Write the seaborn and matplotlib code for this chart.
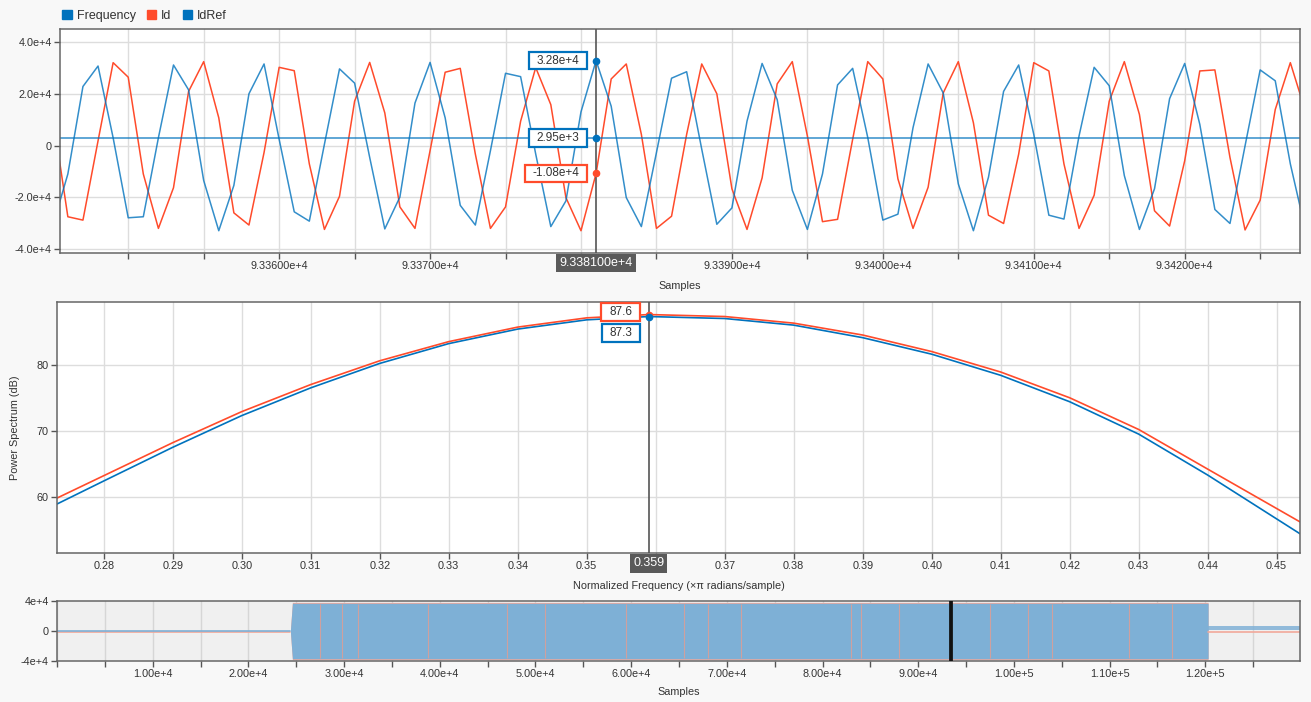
import matplotlib
matplotlib.use('Agg')
import matplotlib.pyplot as plt
import matplotlib.ticker as mticker
from matplotlib.patches import Patch
import seaborn as sns
import pandas as pd
import numpy as np

# ---- data ----
sample_start = 93345
id_ref = [-31000, -11000, 22800, 30700, 3000, -27900, -27500, 3000, 31100, 21500,
          -13500, -32900, -15400, 20000, 31500, 2400, -25600, -29200, 500, 29600,
          24100, -4600, -32200, -19900, 16400, 32100, 10700, -23100, -30700, -2000,
          27900, 26600, -3300, -31300, -21400, 13000, 32800, 15200, -20100, -31300,
          -2700, 26000, 28500, -1400, -30400, -24100, 9400, 31700, 17700, -17300,
          -32400, -11000, 23400, 29800, 3100, -28800, -26500, 6900, 31500, 20300,
          -14800, -32900, -12200, 20900, 31100, 4300, -26900, -28400, 3700, 30200,
          23100, -11600, -32400, -16700, 18100, 31700, 8200, -24700, -30100, -100,
          29200, 25000, -7100, -32600]
id_meas = [11600, -27500, -28800, 1800, 32000, 26400, -11000, -32000, -16300, 20900,
           32400, 10700, -26000, -30700, -2700, 30200, 28900, -7100, -32400, -19600,
           17100, 32100, 12600, -23700, -32000, -2000, 28300, 29800, -3300, -32000,
           -23700, 9400, 30100, 15800, -20100, -32900, -10800, 25700, 31500, 4300,
           -32000, -27300, 4300, 31500, 20000, -16700, -32400, -12500, 23800, 32400,
           3700, -29400, -28500, 2400, 32400, 25700, -12900, -32000, -16100, 20300,
           32400, 8800, -26900, -30100, -3300, 32000, 28800, -7100, -32000, -19200,
           17100, 32400, 12000, -25200, -31100, -5900, 28800, 29200, -4600, -32600,
           -21100, 13900, 32000, 13200]
frequency_val = 2950
cursor_sample = 93381

spec_freq = [0.2732, 0.28, 0.29, 0.30, 0.31, 0.32, 0.33, 0.34, 0.35, 0.359,
             0.37, 0.38, 0.39, 0.40, 0.41, 0.42, 0.43, 0.44, 0.4534]
spec_id = [59.8, 63.2, 68.2, 72.9, 77.0, 80.6, 83.5, 85.7, 87.1, 87.6,
           87.3, 86.3, 84.5, 82.0, 78.9, 75.0, 70.2, 64.2, 56.2]
spec_idref = [58.9, 62.4, 67.5, 72.3, 76.5, 80.2, 83.2, 85.4, 86.8, 87.3,
              87.0, 86.0, 84.1, 81.6, 78.4, 74.4, 69.5, 63.3, 54.4]
cursor_freq = 0.359

# overview (whole record), drawn as levels / envelope
ov_quiet_x = [0, 24400]
ov_quiet_idref = [400, 400]
ov_quiet_id = [-1300, -1300]
ov_band_x = [24400, 24600, 120300]
ov_band_hi = [2000, 37000, 37000]
ov_band_lo = [-2000, -37000, -37000]
ov_tail_x = [120300, 130300]
ov_tail_idref = [4900, 4900]
ov_tail_freq = [2300, 2300]
ov_tail_id = [-1700, -1700]
ov_red_streaks = [27500, 29800, 31500, 38800, 47000, 51000, 59500, 65500, 68000,
                  71500, 83000, 84000, 88000, 97500, 101500, 104000, 112000, 116500]

BLUE = '#0072BD'
RED = '#FF4B2B'
GREY = '#555555'
TXT = '#333333'

sns.set_theme(style='whitegrid')
plt.rcParams['font.family'] = ['Liberation Sans', 'DejaVu Sans']

W, H = 1311, 702
fig = plt.figure(figsize=(W / 100, H / 100), dpi=100, facecolor='#f8f8f8')


def style_axes(ax, face='white'):
    ax.set_facecolor(face)
    for s in ax.spines.values():
        s.set_color('#666666')
        s.set_linewidth(1.1)
    ax.grid(True, color='#dddddd', lw=1.0)
    ax.tick_params(direction='out', length=4, width=1, color=GREY,
                   labelsize=7.8, labelcolor=TXT, pad=2, bottom=True, left=True)


def value_box(ax, x, y, txt, color, dy=0):
    ax.annotate(txt, xy=(x, y), xytext=(-12, dy), textcoords='offset points',
                ha='right', va='center', fontsize=8.5, color=TXT,
                bbox=dict(boxstyle='square,pad=0.65', fc='white', ec=color, lw=1.6,
                          mutation_aspect=0.36),
                zorder=10)


def cursor_box(ax, x, txt, dy):
    ax.annotate(txt, xy=(x, 0), xycoords=('data', 'axes fraction'),
                xytext=(0, dy), textcoords='offset points', ha='center', va='center',
                fontsize=9, color='white', annotation_clip=False,
                bbox=dict(boxstyle='square,pad=0.25', fc='#5a5a5a', ec='none'),
                zorder=10)


# ---- top: time signals ----
samples = np.arange(sample_start, sample_start + len(id_ref))
sig = pd.DataFrame({'Samples': samples, 'Id': id_meas, 'IdRef': id_ref,
                    'Frequency': [frequency_val] * len(samples)})

ax1 = fig.add_axes([60 / W, 1 - 253 / H, 1240 / W, 224 / H])
style_axes(ax1)
sns.lineplot(data=sig, x='Samples', y='Id', color=RED, lw=1.1, ax=ax1)
sns.lineplot(data=sig, x='Samples', y='IdRef', color=BLUE, lw=1.1, alpha=0.8, ax=ax1)
sns.lineplot(data=sig, x='Samples', y='Frequency', color=BLUE, lw=1.1, alpha=0.8, ax=ax1)
ax1.set_xlim(93345.48, 93427.64)
ax1.set_ylim(-41500, 45000)
ax1.xaxis.set_major_locator(mticker.MultipleLocator(5))
ax1.xaxis.set_major_formatter(mticker.FuncFormatter(
    lambda v, p: f'{v / 1e4:.5f}e+4' if (round(v) % 10 == 0 and 93360 <= v and round(v) != 93380) else ''))
ax1.set_yticks([-40000, -20000, 0, 20000, 40000])
ax1.set_yticklabels(['-4.0e+4', '-2.0e+4', '0', '2.0e+4', '4.0e+4'])
ax1.set_xlabel('Samples', fontsize=7.8, color=TXT)
ax1.set_ylabel('')
ax1.xaxis.set_label_coords(0.5, -0.125)

ax1.axvline(cursor_sample, color=GREY, lw=1.2, zorder=5)
ci = cursor_sample - sample_start
for val, col in [(id_ref[ci], BLUE), (frequency_val, BLUE), (id_meas[ci], RED)]:
    ax1.plot(cursor_sample, val, 'o', ms=4.5, color=col, zorder=11)
value_box(ax1, cursor_sample, id_ref[ci], f'{id_ref[ci]:.2e}'.replace('e+04', 'e+4'), BLUE)
value_box(ax1, cursor_sample, frequency_val, f'{frequency_val:.2e}'.replace('e+03', 'e+3'), BLUE)
value_box(ax1, cursor_sample, id_meas[ci], f'{id_meas[ci]:.2e}'.replace('e+04', 'e+4'), RED)
cursor_box(ax1, cursor_sample, f'{cursor_sample / 1e4:.6f}e+4', -7)

# ---- middle: power spectrum ----
spec = pd.DataFrame({'f': spec_freq, 'Id': spec_id, 'IdRef': spec_idref})
ax2 = fig.add_axes([57 / W, 1 - 553 / H, 1243 / W, 251 / H])
style_axes(ax2)
sns.lineplot(data=spec, x='f', y='IdRef', color=BLUE, lw=1.2, ax=ax2)
sns.lineplot(data=spec, x='f', y='Id', color=RED, lw=1.2, ax=ax2)
ax2.set_xlim(0.27323, 0.45338)
ax2.set_ylim(51.5, 89.5)
ax2.xaxis.set_major_locator(mticker.MultipleLocator(0.01))
ax2.xaxis.set_major_formatter(mticker.FuncFormatter(
    lambda v, p: '' if abs(v - 0.36) < 1e-6 else f'{v:.2f}'))
ax2.set_yticks([60, 70, 80])
ax2.set_xlabel('Normalized Frequency (\u00d7\u03c0 radians/sample)', fontsize=7.8, color=TXT)
ax2.set_ylabel('Power Spectrum (dB)', fontsize=7.8, color=TXT)
ax2.xaxis.set_label_coords(0.5, -0.112)
ax2.yaxis.set_label_coords(-0.030, 0.5)
ax2.axvline(cursor_freq, color=GREY, lw=1.2, zorder=5)
ki = spec_freq.index(cursor_freq)
ax2.plot(cursor_freq, spec_id[ki], 'o', ms=4.5, color=RED, zorder=11)
ax2.plot(cursor_freq, spec_idref[ki], 'o', ms=4.5, color=BLUE, zorder=11)
value_box(ax2, cursor_freq, spec_id[ki], f'{spec_id[ki]:.1f}', RED, dy=2)
value_box(ax2, cursor_freq, spec_idref[ki], f'{spec_idref[ki]:.1f}', BLUE, dy=-12)
cursor_box(ax2, cursor_freq, f'{cursor_freq:.3f}', -7.5)

# ---- bottom: overview ----
ax3 = fig.add_axes([57 / W, 1 - 661 / H, 1243 / W, 60 / H])
style_axes(ax3, face='#f0f0f0')
ax3.grid(True, axis='x', color='#d6d6d6')
ax3.grid(False, axis='y')
ax3.fill_between(ov_band_x, [v - 1200 for v in ov_band_lo], [v + 1200 for v in ov_band_hi],
                 color='#f2a89a', lw=0)
ax3.fill_between(ov_band_x, ov_band_lo, ov_band_hi, color='#7eb0d6', lw=0)
ax3.vlines(ov_red_streaks, -36000, 36000, color='#f29a88', lw=0.8, alpha=0.7)
sns.lineplot(x=ov_quiet_x, y=ov_quiet_id, color='#f2a89a', lw=1.2, ax=ax3)
sns.lineplot(x=ov_quiet_x, y=ov_quiet_idref, color='#7eb0d6', lw=1.2, ax=ax3)
sns.lineplot(x=ov_tail_x, y=ov_tail_id, color='#f2a89a', lw=1.2, ax=ax3)
sns.lineplot(x=ov_tail_x, y=ov_tail_idref, color='#7eb0d6', lw=1.2, ax=ax3)
sns.lineplot(x=ov_tail_x, y=ov_tail_freq, color='#7eb0d6', lw=1.2, ax=ax3)
ax3.axvspan(samples[0], samples[-1], fc=BLUE, ec='#111111', lw=2, zorder=6)
ax3.set_xlim(0, 129900)
ax3.set_ylim(-40000, 40000)
ax3.xaxis.set_major_locator(mticker.MultipleLocator(5000))
ax3.xaxis.set_major_formatter(mticker.FuncFormatter(
    lambda v, p: '' if (round(v) % 10000 or v <= 0) else
    (f'{v / 1e4:.2f}e+4' if v < 1e5 else f'{v / 1e5:.2f}e+5')))
ax3.set_yticks([-40000, 0, 40000])
ax3.set_yticklabels(['-4e+4', '0', '4e+4'])
ax3.set_xlabel('Samples', fontsize=7.8, color=TXT)
ax3.xaxis.set_label_coords(0.5, -0.43)

fig.legend(handles=[Patch(color=BLUE), Patch(color=RED), Patch(color=BLUE)],
           labels=['Frequency', 'Id', 'IdRef'], loc='center left',
           bbox_to_anchor=(51 / W, 1 - 16 / H), ncol=3, frameon=False,
           fontsize=9, handlelength=0.75, handleheight=0.75, handletextpad=0.4,
           columnspacing=0.9, labelcolor=TXT)

fig.savefig('out.png', dpi=100, facecolor=fig.get_facecolor())
